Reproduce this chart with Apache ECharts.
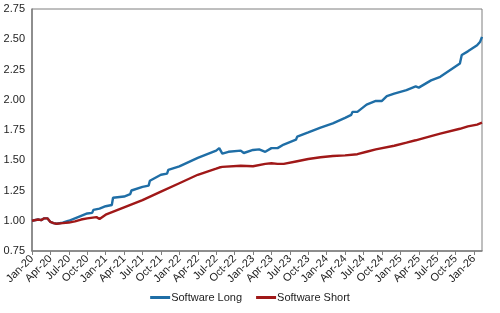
<!DOCTYPE html>
<html>
<head>
<meta charset="utf-8">
<script src="https://cdn.jsdelivr.net/npm/echarts@6/dist/echarts.min.js"></script>
<style>
  html, body { margin: 0; padding: 0; background: #fff; }
  #chart { width: 500px; height: 313px; }
</style>
</head>
<body>
<div id="chart"></div>
<script>
  // months counted from Jan-20
  const tickLabels = ['Jan-20', 'Apr-20', 'Jul-20', 'Oct-20', 'Jan-21', 'Apr-21', 'Jul-21', 'Oct-21',
    'Jan-22', 'Apr-22', 'Jul-22', 'Oct-22', 'Jan-23', 'Apr-23', 'Jul-23', 'Oct-23',
    'Jan-24', 'Apr-24', 'Jul-24', 'Oct-24', 'Jan-25', 'Apr-25', 'Jul-25', 'Oct-25', 'Jan-26'];

  const longMonths = [0, 1, 1.5, 2, 2.5, 3, 3.5, 4, 5, 6, 7, 8, 9, 9.8, 10, 11, 12, 13, 13.2, 15, 16, 16.2,
    18, 19, 19.2, 21, 22, 22.2, 24, 27, 30, 30.5, 31, 32, 34, 34.5, 36, 37, 38, 39, 40, 41, 43, 43.2,
    45, 47, 49, 51, 52, 52.2, 53, 54.5, 56, 57, 57.3, 57.8, 59, 61, 62.5, 63, 65, 66.5, 69.7, 70,
    71, 72.5, 73, 73.3];
  const longValues = [1.00, 1.01, 1.005, 1.02, 1.02, 0.99, 0.98, 0.975, 0.985, 1.00, 1.02, 1.04, 1.06, 1.065, 1.09,
    1.10, 1.12, 1.13, 1.19, 1.20, 1.22, 1.25, 1.28, 1.29, 1.33, 1.38, 1.39, 1.42, 1.45, 1.52, 1.58,
    1.60, 1.555, 1.57, 1.58, 1.56, 1.585, 1.59, 1.57, 1.60, 1.60, 1.63, 1.67, 1.695,
    1.73, 1.77, 1.805, 1.85, 1.875, 1.90, 1.90, 1.96, 1.99, 1.99, 1.98, 2.03, 2.05, 2.08, 2.11, 2.10,
    2.16, 2.19, 2.30, 2.37, 2.40, 2.45, 2.48, 2.52];

  const shortMonths = [0, 1, 1.5, 2, 2.5, 3, 3.5, 4, 5, 6, 7, 8, 9, 10.5, 11, 12, 15, 18, 21, 24, 27, 30,
    30.5, 31, 34, 36, 38, 39, 40, 41, 43, 45, 47, 49, 51, 53, 54.5, 56, 59, 61, 62.5, 65, 66.5,
    69.7, 71, 72.5, 73.3];
  const shortValues = [1.00, 1.01, 1.005, 1.02, 1.02, 0.99, 0.98, 0.975, 0.98, 0.985, 0.995, 1.01, 1.02, 1.03,
    1.015, 1.05, 1.11, 1.17, 1.24, 1.31, 1.38, 1.43, 1.44, 1.445, 1.455, 1.45, 1.47, 1.475, 1.47,
    1.47, 1.49, 1.51, 1.525, 1.535, 1.54, 1.55, 1.57, 1.59, 1.62, 1.645, 1.665, 1.70, 1.72,
    1.76, 1.78, 1.795, 1.81];

  const yMin = 0.75;
  const yMax = 2.75;
  const yStep = 0.25;
  const xMax = 73.3;
  const xStep = 3;

  const font = 'Liberation Sans, Arial, sans-serif';
  const chart = echarts.init(document.getElementById('chart'));

  chart.setOption({
    animation: false,
    grid: {
      left: 32,
      right: 18,
      top: 9,
      bottom: 62,
      show: true,
      borderColor: '#7f7f7f',
      borderWidth: 1
    },
    legend: {
      bottom: 5,
      left: 'center',
      icon: 'rect',
      itemWidth: 20,
      itemHeight: 3,
      itemGap: 14,
      textStyle: { fontFamily: font, fontSize: 11, color: '#222', padding: [0, 0, 0, -4] },
      data: ['Software Long', 'Software Short']
    },
    xAxis: {
      type: 'value',
      min: 0,
      max: xMax,
      interval: xStep,
      splitLine: { show: false },
      axisLine: { lineStyle: { color: '#7f7f7f', width: 1.5 } },
      axisTick: { show: true, length: 4, lineStyle: { color: '#7f7f7f' } },
      axisLabel: {
        rotate: 45,
        fontFamily: font,
        fontSize: 11,
        color: '#222',
        margin: 6,
        showMaxLabel: false,
        formatter: v => {
          const i = Math.round(v / xStep);
          return Math.abs(v - i * xStep) < 1e-6 ? (tickLabels[i] || '') : '';
        }
      }
    },
    yAxis: {
      type: 'value',
      min: yMin,
      max: yMax,
      interval: yStep,
      splitLine: { show: false },
      axisLine: { show: true, lineStyle: { color: '#7f7f7f', width: 1.5 } },
      axisTick: { show: false },
      axisLabel: {
        fontFamily: font,
        fontSize: 11,
        color: '#222',
        margin: 7,
        formatter: v => v.toFixed(2)
      }
    },
    series: [{
      name: 'Software Long',
      type: 'line',
      showSymbol: false,
      color: '#1F6EA6',
      lineStyle: { width: 2.4 },
      data: longMonths.map((m, i) => [m, longValues[i]])
    }, {
      name: 'Software Short',
      type: 'line',
      showSymbol: false,
      color: '#A01818',
      lineStyle: { width: 2.4 },
      data: shortMonths.map((m, i) => [m, shortValues[i]])
    }]
  });
</script>
</body>
</html>
